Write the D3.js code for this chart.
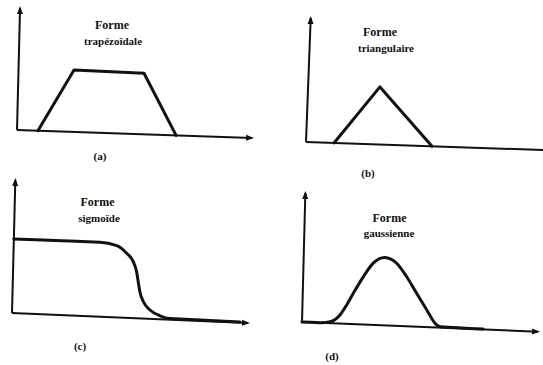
<!DOCTYPE html>
<html><head><meta charset="utf-8">
<script src="https://cdn.jsdelivr.net/npm/d3@7"></script>
<style>html,body{margin:0;padding:0;background:#fff;}svg{display:block;}</style>
</head><body>
<script>
// ---- data (x in [0,10] along each horizontal axis, y in [0,1] along each vertical axis)
const trapezeX = [0.89, 2.36, 5.34, 6.77];
const trapezeY = [0.0, 0.508, 0.50, 0.0];
const triangleX = [1.12, 2.87, 5.04];
const triangleY = [0.0, 0.464, 0.0];
const sigmoidX = [0, 2.03, 3.65, 4.36, 4.79, 5.08, 5.23, 5.31, 5.39, 5.55, 5.84, 6.27, 6.69, 9.66];
const sigmoidY = [0.556, 0.558, 0.559, 0.539, 0.485, 0.424, 0.35, 0.275, 0.2, 0.126, 0.066, 0.026, 0.008, 0.004];
const gaussX = [0, 0.76, 1.19, 1.6, 1.87, 2.14, 2.55, 2.95, 3.44, 3.94, 4.38, 4.82, 5.27, 5.63, 5.85, 7.67];
const gaussY = [0, 0, 0.011, 0.067, 0.146, 0.239, 0.371, 0.478, 0.525, 0.485, 0.384, 0.259, 0.133, 0.033, 0.008, 0.004];
const titles = [["Forme", "trapézoïdale"], ["Forme", "triangulaire"], ["Forme", "sigmoïde"], ["Forme", "gaussienne"]];
const labels = ["(a)", "(b)", "(c)", "(d)"];

const W = 543, H = 365;
const svg = d3.select("body").append("svg").attr("width", W).attr("height", H);
svg.append("rect").attr("width", W).attr("height", H).attr("fill", "#fff");

// layout for the four panels (scan is slightly tilted: sx = slope of x-axis, kx = lean of y-axis)
const panels = [
  {ox: 17, oy: 130, w: 235, h: 122, sx: 0.034, kx: 0.025, xs: trapezeX, ys: trapezeY, curve: d3.curveLinear,
   t: [112, 29, 113, 45], l: [100, 160]},
  {ox: 306, oy: 142, w: 250, h: 124, sx: 0.034, kx: 0.038, xs: triangleX, ys: triangleY, curve: d3.curveLinear,
   t: [380, 36, 386, 52], l: [368, 177]},
  {ox: 12, oy: 313, w: 236, h: 133, sx: 0.042, kx: 0.025, xs: sigmoidX, ys: sigmoidY, curve: d3.curveMonotoneX,
   t: [97.5, 206, 99, 222], l: [80, 350]},
  {ox: 302, oy: 322, w: 236, h: 129, sx: 0.041, kx: 0.026, xs: gaussX, ys: gaussY, curve: d3.curveMonotoneX,
   t: [389.5, 222, 389, 237], l: [332, 360]}
];

const ink = "#111";
panels.forEach((p, i) => {
  const x = d3.scaleLinear().domain([0, 10]).range([0, p.w]);
  const y = d3.scaleLinear().domain([0, 1]).range([0, p.h]);
  const g = svg.append("g")
    .attr("transform", `matrix(1,${p.sx},${p.kx},-1,${p.ox},${p.oy})`);
  // axes
  const ax = d3.line().x(d => x(d[0])).y(d => y(d[1]));
  g.append("path").attr("d", ax([[0, 0], [10, 0]]))
    .attr("stroke", ink).attr("stroke-width", 2).attr("fill", "none");
  g.append("path").attr("d", ax([[0, 0], [0, 1]]))
    .attr("stroke", ink).attr("stroke-width", 2).attr("fill", "none");
  // arrowheads
  const xe = x(10), ye = y(1);
  g.append("path").attr("d", `M${xe + 2},0 L${xe - 6},3 L${xe - 6},-3 Z`).attr("fill", ink);
  g.append("path").attr("d", `M0,${ye + 2} L-3,${ye - 6} L3,${ye - 6} Z`).attr("fill", ink);
  // curve
  const pts = p.xs.map((v, k) => [v, p.ys[k]]);
  g.append("path").attr("d", d3.line().x(d => x(d[0])).y(d => y(d[1])).curve(p.curve)(pts))
    .attr("stroke", ink).attr("stroke-width", 3).attr("fill", "none")
    .attr("stroke-linejoin", "round").attr("stroke-linecap", "round");
  // titles
  const tf = svg.append("g").attr("font-family", "'Liberation Serif', 'DejaVu Serif', serif")
    .attr("font-weight", "bold").attr("fill", ink).attr("text-anchor", "middle");
  tf.append("text").attr("x", p.t[0]).attr("y", p.t[1]).attr("font-size", 12).text(titles[i][0]);
  tf.append("text").attr("x", p.t[2]).attr("y", p.t[3]).attr("font-size", 11).text(titles[i][1]);
  tf.append("text").attr("x", p.l[0]).attr("y", p.l[1]).attr("font-size", 11).text(labels[i]);
});
</script>
</body></html>
